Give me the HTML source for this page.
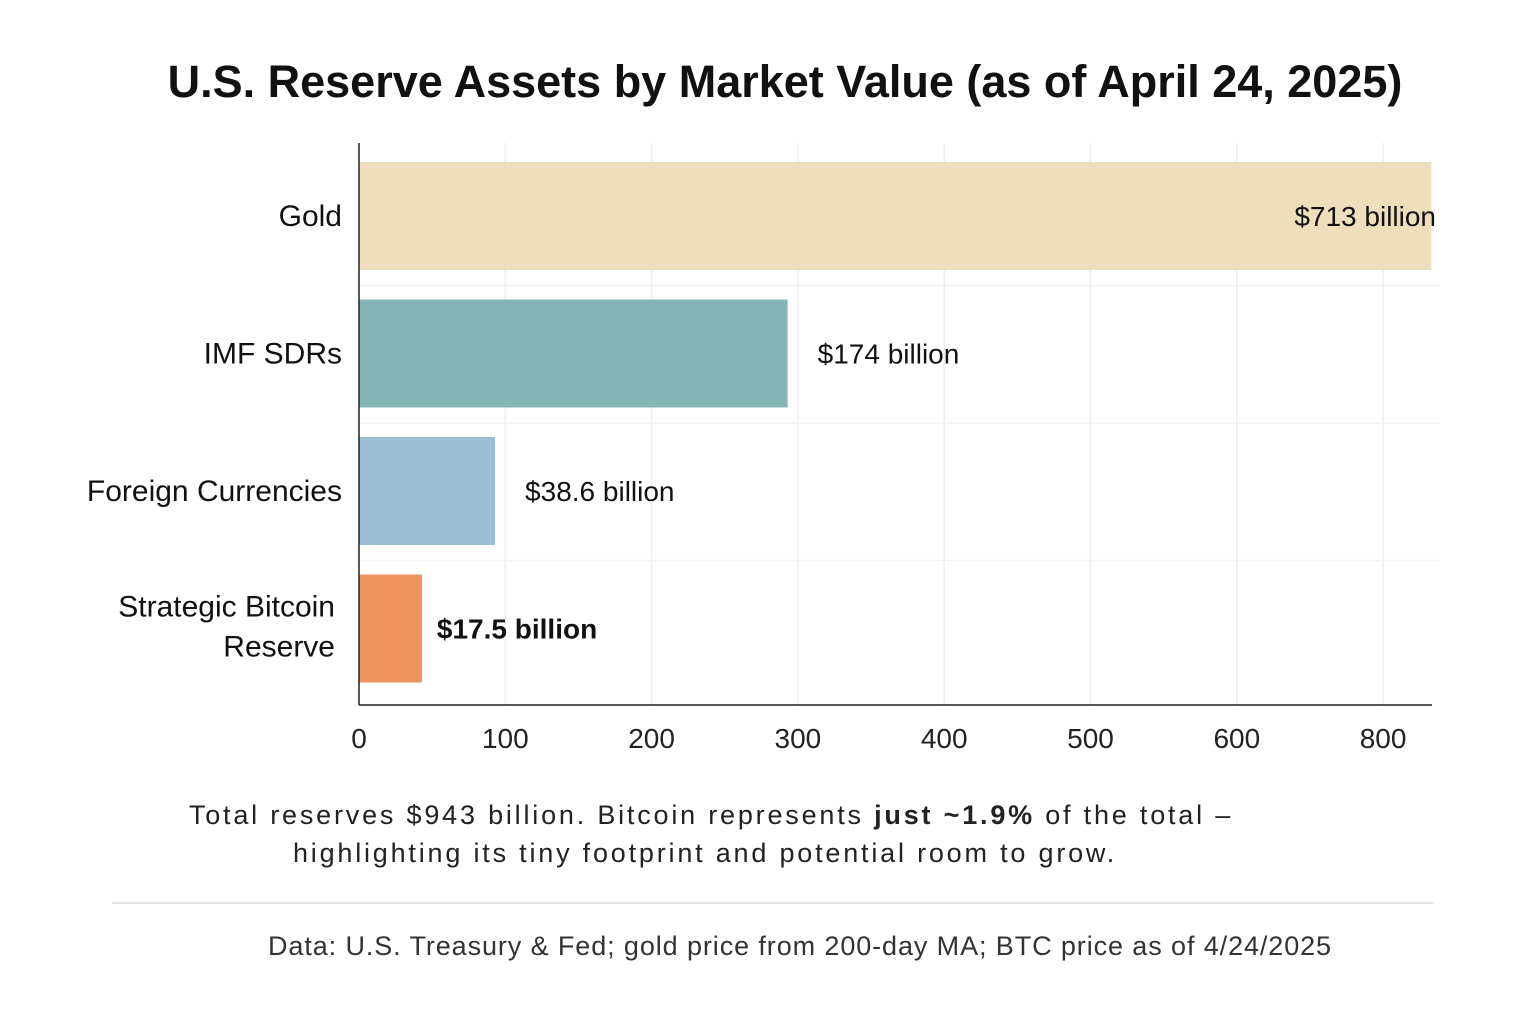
<!DOCTYPE html>
<html><head><meta charset="utf-8">
<style>
html,body{margin:0;padding:0;background:#fff;}
body{width:1536px;height:1024px;overflow:hidden;font-family:"Liberation Sans",sans-serif;}
</style></head>
<body>
<svg id="chart" width="1536" height="1024" xmlns="http://www.w3.org/2000/svg">
<text x="785" y="97" text-anchor="middle" font-size="45" font-weight="bold" fill="#111" font-family="Liberation Sans, sans-serif">U.S. Reserve Assets by Market Value (as of April 24, 2025)</text>
<g id="grid"></g>
<g id="bars"></g>
<g id="axes"></g>
<text x="711" y="824" text-anchor="middle" font-size="27" letter-spacing="2.8" fill="#222">Total reserves $943 billion. Bitcoin represents <tspan font-weight="bold">just ~1.9%</tspan> of the total –</text>
<text x="705" y="862" text-anchor="middle" font-size="27" letter-spacing="2.8" fill="#222">highlighting its tiny footprint and potential room to grow.</text>
<line x1="112" y1="903" x2="1434" y2="903" stroke="#ddd" stroke-width="1.5"/>
<text x="800" y="955" text-anchor="middle" font-size="27" letter-spacing="0.9" fill="#333">Data: U.S. Treasury &amp; Fed; gold price from 200-day MA; BTC price as of 4/24/2025</text>
</svg>
<script>
const categories = ["Gold", "IMF SDRs", "Foreign Currencies", "Strategic Bitcoin Reserve"];
const barValues = [733, 293, 93, 43];
const valueLabels = ["$713 billion", "$174 billion", "$38.6 billion", "$17.5 billion"];
const colors = ["#efdebb", "#85b4b6", "#9dbed4", "#ee945c"];
const tickValues = [0, 100, 200, 300, 400, 500, 600, 700];
const tickLabels = ["0", "100", "200", "300", "400", "500", "600", "800"];

const NS = "http://www.w3.org/2000/svg";
const x0 = 359, pxPerUnit = 1.463;
const xScale = v => x0 + v * pxPerUnit;
const rowTop = 162, rowStep = 137.5, barH = 108;
const yScale = i => rowTop + i * rowStep;
function mk(tag, attrs, parent) {
  const e = document.createElementNS(NS, tag);
  for (const k in attrs) e.setAttribute(k, attrs[k]);
  parent.appendChild(e);
  return e;
}
const grid = document.getElementById("grid"), bars = document.getElementById("bars"), axes = document.getElementById("axes");
tickValues.forEach((v, i) => {
  if (i > 0) {
    const g = mk("line", {x1: xScale(v), x2: xScale(v), y1: 143, y2: 705, stroke: "#eee", "stroke-width": 1.5}, grid);
    
    
  }
  const t = mk("text", {x: xScale(v), y: 748, "text-anchor": "middle", "font-size": 28, fill: "#222"}, axes);
  t.textContent = tickLabels[i];
  
  
});
[1, 2, 3].forEach(i => {
  const h = mk("line", {x1: x0, x2: 1440, y1: yScale(i) - 14, y2: yScale(i) - 14, stroke: "#f2f2f2", "stroke-width": 1.5}, grid);
  
  
});
categories.forEach((c, i) => {
  const y = yScale(i);
  const w = Math.min(xScale(barValues[i]), 1433) - x0;
  const r = mk("rect", {x: x0, y: y, width: w, height: barH, fill: colors[i]}, bars);
  
  
  const cy = y + barH / 2 + 10;
  if (i === 3) {
    const t1 = mk("text", {x: 335, y: y + 42, "text-anchor": "end", "font-size": 30, fill: "#111"}, bars);
    t1.textContent = "Strategic Bitcoin";
    
    
    const t2 = mk("text", {x: 335, y: y + 82, "text-anchor": "end", "font-size": 30, fill: "#111"}, bars);
    t2.textContent = "Reserve";
    
    
  } else {
    const t = mk("text", {x: 342, y: cy, "text-anchor": "end", "font-size": 30, fill: "#111"}, bars);
    t.textContent = c;
    
    
  }
  let lx, anchor = "start";
  if (i === 0) { lx = 1436; anchor = "end"; } else { lx = xScale(barValues[i]) + 30; if (i === 3) lx = xScale(barValues[i]) + 15; }
  const vl = mk("text", {x: lx, y: cy, "text-anchor": anchor, "font-size": 28, fill: "#111", "font-weight": i === 3 ? "bold" : "normal"}, bars);
  vl.textContent = valueLabels[i];
  
  
});
const ya = mk("line", {x1: x0, x2: x0, y1: 143, y2: 705, stroke: "#222", "stroke-width": 1.5}, axes);


const xa = mk("line", {x1: x0, x2: 1432, y1: 705, y2: 705, stroke: "#222", "stroke-width": 1.5}, axes);


</script>
</body></html>
